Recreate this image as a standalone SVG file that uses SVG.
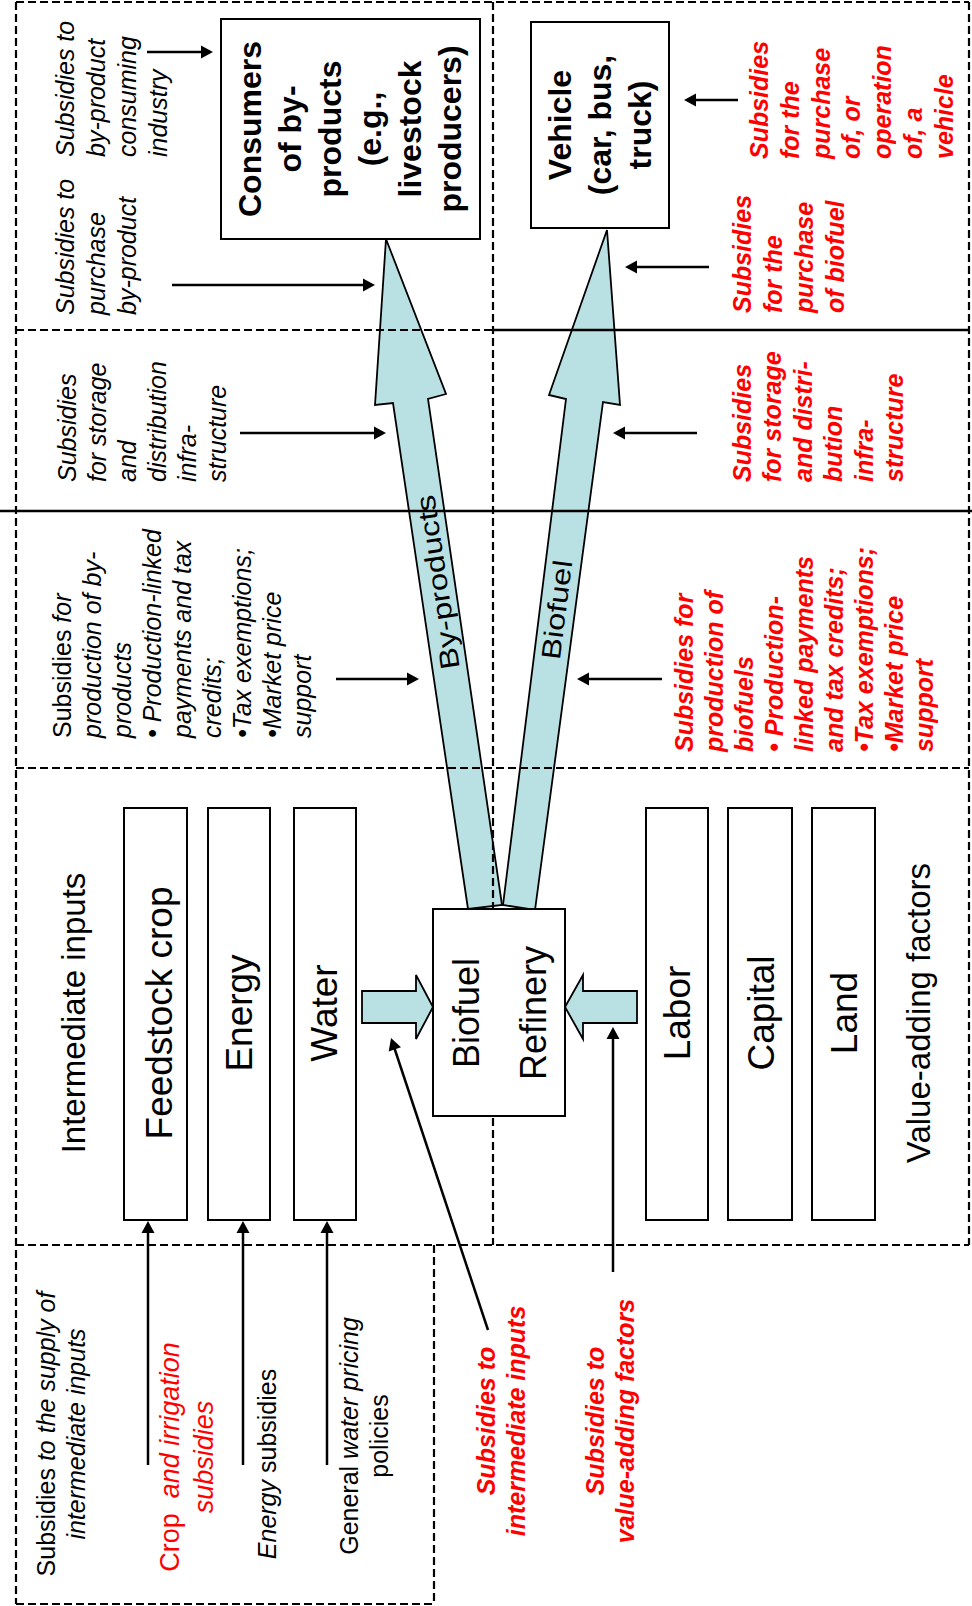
<svg xmlns="http://www.w3.org/2000/svg" width="972" height="1606" viewBox="0 0 972 1606">
<defs>
<style>
text{font-family:"Liberation Sans",Arial,sans-serif;fill:#000}
.it{font-style:italic;font-size:25px}
.up{font-style:normal}
.red{fill:#ff0000;font-weight:bold;font-style:italic;font-size:25px}
.redr{fill:#ff0000;font-style:italic;font-size:27px}
.bx{font-weight:bold;font-size:32px}
.lg{font-size:37px}
.md{font-size:33px}
.ctr{text-anchor:middle}
.dash{fill:none;stroke:#000;stroke-width:2.2;stroke-dasharray:8 4}
.solid{fill:none;stroke:#000;stroke-width:2.5}
.node{fill:#fff;stroke:#000;stroke-width:2}
.blk{fill:#b9e0e3;stroke:#000;stroke-width:1.8}
.arr{fill:none;stroke:#000;stroke-width:2.5;marker-end:url(#ah)}
</style>
<marker id="ah" markerUnits="userSpaceOnUse" markerWidth="13" markerHeight="14" refX="2" refY="6.5" orient="auto" overflow="visible"><path d="M0,0 L12,6.5 L0,13 z" fill="#000"/></marker>
</defs>
<rect width="972" height="1606" fill="#fff"/>

<g id="flows">
<polygon id="byproducts-arrow" class="blk" points="468,909 393,403 375,405 386,239 446,394 428,399 502,905"/>
<polygon id="biofuel-arrow" class="blk" points="503,905 566,399 549,395 607,230 620,405 603,402 535,910"/>
<polygon id="water-to-refinery" class="blk" points="362,991 416,991 416,975 433,1007 416,1039 416,1023 362,1023"/>
<polygon id="labor-to-refinery" class="blk" points="637,991 583,991 583,975 565,1007 583,1039 583,1023 637,1023"/>
<text transform="translate(447,581) rotate(-98.4)" text-anchor="middle" font-size="27" textLength="176" lengthAdjust="spacingAndGlyphs">By-products</text>
<text transform="translate(566,611) rotate(-82.7)" text-anchor="middle" font-size="27" textLength="100" lengthAdjust="spacingAndGlyphs">Biofuel</text>
</g>

<g id="frame">
<path class="dash" d="M16,2 H969 M16,2 V1604 M969,2 V1245 M493,2 V1245 M16,330 H493 M16,768 H969 M16,1245 H969 M434,1245 V1604 M16,1604 H434"/>
<path class="solid" d="M493,330 H969 M0,511 H972"/>
</g>

<g id="connectors">
<path class="arr" d="M147,52 H203"/>
<path class="arr" d="M172,285 H365"/>
<path class="arr" d="M240,433 H376"/>
<path class="arr" d="M336,679 H409"/>
<path class="arr" d="M738,100 H694"/>
<path class="arr" d="M709,267 H635"/>
<path class="arr" d="M697,433 H623"/>
<path class="arr" d="M662,679 H587"/>
<path class="arr" d="M148,1465 V1231"/>
<path class="arr" d="M243,1465 V1231"/>
<path class="arr" d="M327,1465 V1231"/>
<path class="arr" d="M613,1272 V1037"/>
<path class="arr" d="M488,1330 L394.2,1047.5"/>
</g>

<g id="consumers">
<rect class="node" x="221" y="19" width="259" height="220"/>
<text class="bx ctr" transform="translate(0,129) rotate(-90)"><tspan x="0" y="261">Consumers</tspan><tspan x="0" y="301">of by-</tspan><tspan x="0" y="341">products</tspan><tspan x="0" y="381">(e.g.,</tspan><tspan x="0" y="421">livestock</tspan><tspan x="0" y="461">producers)</tspan></text>
</g>

<g id="vehicle">
<rect class="node" x="531" y="22" width="138" height="206"/>
<text class="bx ctr" transform="translate(0,125) rotate(-90)"><tspan x="0" y="571">Vehicle</tspan><tspan x="0" y="611">(car, bus,</tspan><tspan x="0" y="651">truck)</tspan></text>
</g>

<g id="refinery">
<rect class="node" x="433" y="909" width="132" height="207"/>
<text class="ctr" font-size="36" transform="translate(0,1013) rotate(-90)"><tspan x="0" y="479">Biofuel</tspan><tspan x="0" y="546">Refinery</tspan></text>
</g>

<g id="feedstock">
<rect class="node" x="124" y="808" width="63" height="412"/>
<text class="lg ctr" transform="translate(0,1013) rotate(-90)" x="0" y="172">Feedstock crop</text>
</g>
<g id="energy">
<rect class="node" x="208" y="808" width="62" height="412"/>
<text class="lg ctr" transform="translate(0,1013) rotate(-90)" x="0" y="252">Energy</text>
</g>
<g id="water">
<rect class="node" x="294" y="808" width="62" height="412"/>
<text class="lg ctr" transform="translate(0,1013) rotate(-90)" x="0" y="337">Water</text>
</g>
<g id="labor">
<rect class="node" x="646" y="808" width="62" height="412"/>
<text class="lg ctr" transform="translate(0,1013) rotate(-90)" x="0" y="690">Labor</text>
</g>
<g id="capital">
<rect class="node" x="728" y="808" width="64" height="412"/>
<text class="lg ctr" transform="translate(0,1013) rotate(-90)" x="0" y="774">Capital</text>
</g>
<g id="land">
<rect class="node" x="812" y="808" width="63" height="412"/>
<text class="lg ctr" transform="translate(0,1013) rotate(-90)" x="0" y="857">Land</text>
</g>

<g id="region-labels">
<text class="md ctr" transform="translate(0,1013) rotate(-90)" x="0" y="85">Intermediate inputs</text>
<text class="md ctr" transform="translate(0,1013) rotate(-90)" x="0" y="930">Value-adding factors</text>
</g>

<g id="policy-labels">
<text class="it" transform="translate(0,157) rotate(-90)"><tspan x="0" y="74">Subsidies to</tspan><tspan x="0" y="105">by-product</tspan><tspan x="0" y="136">consuming</tspan><tspan x="0" y="167">industry</tspan></text>
<text class="it" transform="translate(0,315) rotate(-90)"><tspan x="0" y="74">Subsidies to</tspan><tspan x="0" y="105">purchase</tspan><tspan x="0" y="136">by-product</tspan></text>
<text class="red" transform="translate(0,159) rotate(-90)"><tspan x="0" y="768">Subsidies</tspan><tspan x="0" y="798.8">for the</tspan><tspan x="0" y="829.6">purchase</tspan><tspan x="0" y="860.4">of, or</tspan><tspan x="0" y="891.2">operation</tspan><tspan x="0" y="922">of, a</tspan><tspan x="0" y="952.8">vehicle</tspan></text>
<text class="red" transform="translate(0,313) rotate(-90)"><tspan x="0" y="751">Subsidies</tspan><tspan x="0" y="782">for the</tspan><tspan x="0" y="813">purchase</tspan><tspan x="0" y="844">of biofuel</tspan></text>
<text class="it" transform="translate(0,482) rotate(-90)"><tspan x="0" y="76">Subsidies</tspan><tspan x="0" y="106">for storage</tspan><tspan x="0" y="136">and</tspan><tspan x="0" y="166">distribution</tspan><tspan x="0" y="196">infra-</tspan><tspan x="0" y="226">structure</tspan></text>
<text class="red" transform="translate(0,482) rotate(-90)"><tspan x="0" y="751">Subsidies</tspan><tspan x="0" y="781.4">for storage</tspan><tspan x="0" y="811.8">and distri-</tspan><tspan x="0" y="842.2">bution</tspan><tspan x="0" y="872.6">infra-</tspan><tspan x="0" y="903">structure</tspan></text>
<text class="it" transform="translate(0,738) rotate(-90)"><tspan x="0" y="71"><tspan class="up">Subsidies</tspan> for</tspan><tspan x="0" y="101">production of by-</tspan><tspan x="0" y="131">products</tspan><tspan x="0" y="161">• Production-linked</tspan><tspan x="0" y="191">payments and tax</tspan><tspan x="0" y="221">credits;</tspan><tspan x="0" y="251">•Tax exemptions;</tspan><tspan x="0" y="281">•Market price</tspan><tspan x="0" y="311">support</tspan></text>
<text class="red" transform="translate(0,752) rotate(-90)"><tspan x="0" y="693">Subsidies for</tspan><tspan x="0" y="723">production of</tspan><tspan x="0" y="753">biofuels</tspan><tspan x="0" y="783">• Production-</tspan><tspan x="0" y="813">linked payments</tspan><tspan x="0" y="843">and tax credits;</tspan><tspan x="0" y="873">•Tax exemptions;</tspan><tspan x="0" y="903">•Market price</tspan><tspan x="0" y="933">support</tspan></text>
<text class="it ctr" transform="translate(0,1434) rotate(-90)"><tspan x="0" y="55"><tspan class="up">Subsidies</tspan> to the supply of</tspan><tspan x="0" y="85">intermediate inputs</tspan></text>
<text class="redr ctr" transform="translate(0,1457) rotate(-90)"><tspan x="0" y="179"><tspan class="up">Crop</tspan>&#160; and irrigation</tspan><tspan x="0" y="213">subsidies</tspan></text>
<text class="it ctr" transform="translate(0,1464) rotate(-90)" x="0" y="276">Energy<tspan class="up"> subsidies</tspan></text>
<text class="it ctr" transform="translate(0,1436) rotate(-90)"><tspan x="0" y="358"><tspan class="up">General</tspan> water pricing</tspan><tspan x="0" y="388" class="up">policies</tspan></text>
<text class="red ctr" transform="translate(0,1421) rotate(-90)"><tspan x="0" y="495">Subsidies to</tspan><tspan x="0" y="525">intermediate inputs</tspan></text>
<text class="red ctr" transform="translate(0,1421) rotate(-90)"><tspan x="0" y="604">Subsidies to</tspan><tspan x="0" y="634">value-adding factors</tspan></text>
</g>
</svg>
